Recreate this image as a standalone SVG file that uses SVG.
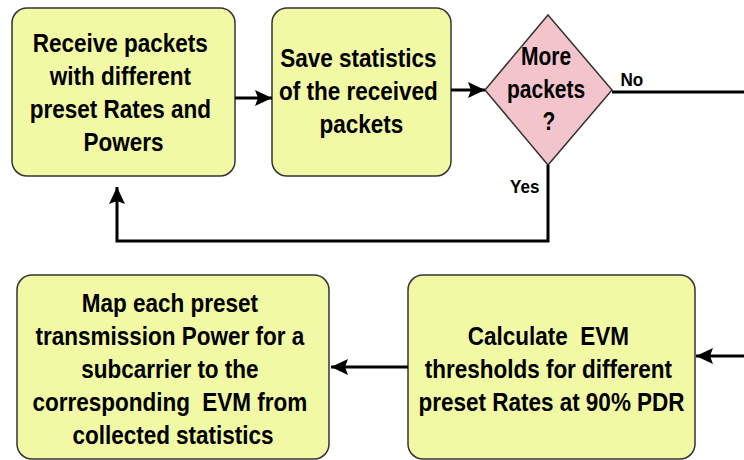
<svg xmlns="http://www.w3.org/2000/svg" width="744" height="460" viewBox="0 0 744 460">
  <defs>
    <style>
      .box { fill: #f1f9a5; stroke: #333; stroke-width: 1.5; }
      .dia { fill: #f4c4cc; stroke: #333; stroke-width: 1.5; }
      .lbl { font-family: "Liberation Sans", Arial, sans-serif; font-weight: bold; font-size: 25px; fill: #000; text-anchor: middle; }
      .dlbl { font-family: "Liberation Sans", Arial, sans-serif; font-weight: bold; font-size: 25px; fill: #000; text-anchor: middle; }
      .edge { font-family: "Liberation Sans", Arial, sans-serif; font-weight: bold; font-size: 19px; fill: #000; }
      .wire { fill: none; stroke: #000; stroke-width: 3; }
    </style>
    <marker id="arrow" viewBox="0 0 17 16" refX="17" refY="8" markerUnits="userSpaceOnUse" markerWidth="17" markerHeight="16" orient="auto">
      <path d="M0,0 L17,8 L0,16 L3,8 Z" fill="#000"/>
    </marker>
  </defs>

  <!-- process steps -->
  <g id="receive">
    <rect class="box" x="12" y="8" width="223" height="168" rx="15"/>
    <text class="lbl" transform="translate(123.5 0) scale(0.9 1)">
      <tspan x="0" y="52">Receive packets</tspan>
      <tspan x="0" y="85">with different</tspan>
      <tspan x="0" y="118">preset Rates and</tspan>
      <tspan x="0" y="151">Powers</tspan>
    </text>
  </g>

  <g id="save">
    <rect class="box" x="272" y="8" width="179" height="168" rx="15"/>
    <text class="lbl" transform="translate(361.5 0) scale(0.9 1)">
      <tspan x="0" y="67">Save statistics</tspan>
      <tspan x="0" y="100">of the received</tspan>
      <tspan x="0" y="133">packets</tspan>
    </text>
  </g>

  <g id="more">
    <polygon class="dia" points="548,15 612,90 548,165 485,90"/>
    <text class="dlbl" transform="translate(549 0) scale(0.84 1)">
      <tspan x="0" y="65">More</tspan>
      <tspan x="0" y="98">packets</tspan>
      <tspan x="0" y="130">?</tspan>
    </text>
  </g>

  <g id="calculate">
    <rect class="box" x="408" y="275" width="287" height="184" rx="15"/>
    <text class="lbl" transform="translate(551.5 0) scale(0.9 1)">
      <tspan x="0" y="345">Calculate &#160;EVM</tspan>
      <tspan x="0" y="378">thresholds for different</tspan>
      <tspan x="0" y="411">preset Rates at 90% PDR</tspan>
    </text>
  </g>

  <g id="map">
    <rect class="box" x="17" y="275" width="312" height="184" rx="15"/>
    <text class="lbl" transform="translate(173 0) scale(0.9 1)">
      <tspan x="0" y="312">Map each preset</tspan>
      <tspan x="0" y="345">transmission Power for a</tspan>
      <tspan x="0" y="378">subcarrier to the</tspan>
      <tspan x="0" y="411">corresponding &#160;EVM from</tspan>
      <tspan x="0" y="444">collected statistics</tspan>
    </text>
  </g>

  <!-- connectors -->
  <g id="connectors">
    <path class="wire" d="M235,98 H272" marker-end="url(#arrow)"/>
    <path class="wire" d="M451,90 H485" marker-end="url(#arrow)"/>
    <path class="wire" d="M612,92 H744"/>
    <path class="wire" d="M548,165 V241 H117 V187" marker-end="url(#arrow)"/>
    <path class="wire" d="M744,356 H696" marker-end="url(#arrow)"/>
    <path class="wire" d="M408,367 H331" marker-end="url(#arrow)"/>
    <text class="edge" transform="translate(620.5 0) scale(0.9 1)" x="0" y="86">No</text>
    <text class="edge" transform="translate(510 0) scale(0.9 1)" x="0" y="193">Yes</text>
  </g>
</svg>
